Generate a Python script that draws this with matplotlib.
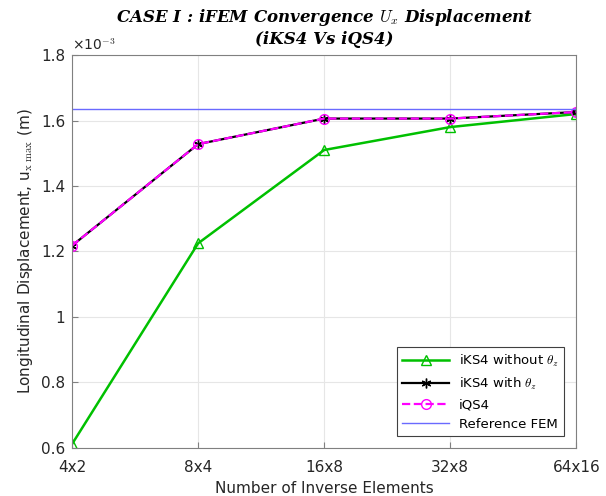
import numpy as np
import matplotlib.pyplot as plt

mesh = ['4x2', '8x4', '16x8', '32x8', '64x16']
iks4_no_theta = [0.612, 1.225, 1.510, 1.580, 1.620]
iks4_theta = [1.218, 1.528, 1.606, 1.606, 1.626]
iqs4 = [1.218, 1.528, 1.606, 1.606, 1.626]
ref_fem = 1.635

plt.rcParams['mathtext.fontset'] = 'cm'
fig = plt.figure(figsize=(6.06, 4.96), dpi=100)
ax = fig.add_axes([0.119, 0.097, 0.832, 0.792])
x = np.arange(len(mesh))

ax.plot(x, iks4_no_theta, color='#00c000', lw=1.8, marker='^', ms=7,
        mfc='none', mec='#00c000', label=r'iKS4 without $\theta_z$')
ax.plot(x, iks4_theta, color='black', lw=1.6, marker=(6, 2, 0), ms=7,
        label=r'iKS4 with $\theta_z$')
ax.plot(x, iqs4, color='#ff00ff', lw=1.6, ls='--', marker='o', ms=7,
        mfc='none', mec='#ff00ff', label='iQS4')
ax.axhline(ref_fem, color='#6a6aff', lw=1.0, label='Reference FEM')

ax.set_xlim(0, 4)
ax.set_ylim(0.6, 1.8)
ax.set_xticks(x)
ax.set_xticklabels(mesh)
ax.set_yticks([0.6, 0.8, 1.0, 1.2, 1.4, 1.6, 1.8])
ax.set_yticklabels(['0.6', '0.8', '1', '1.2', '1.4', '1.6', '1.8'])
ax.grid(True, color='#e6e6e6', lw=0.8)
ax.set_axisbelow(True)
for s in ax.spines.values():
    s.set_color('#808080')
ax.tick_params(colors='#262626', labelsize=11, direction='in', length=4,
               color='#808080')
ax.tick_params(axis='x', pad=9)
ax.tick_params(axis='y', pad=5)

ax.set_xlabel('Number of Inverse Elements', fontsize=11, color='#262626')
ax.set_ylabel(r'Longitudinal Displacement, u$_{\mathrm{x\ max}}$ (m)',
              fontsize=11, color='#262626')
ax.text(0.0, 1.005, r'×10$^{\mathsf{-3}}$', transform=ax.transAxes,
        fontsize=10, color='#262626', va='bottom', ha='left')

ax.set_title('CASE I : iFEM Convergence $U_x$ Displacement\n(iKS4 Vs iQS4)',
             fontsize=12, fontweight='bold', fontstyle='italic',
             family='DejaVu Serif', pad=8)

leg = ax.legend(loc='lower right', fontsize=9.5, fancybox=False,
                framealpha=1, edgecolor='#404040', handlelength=3.5,
                borderaxespad=0.9, labelspacing=0.5)
leg.get_frame().set_linewidth(0.8)

fig.savefig('out.png', dpi=100)
